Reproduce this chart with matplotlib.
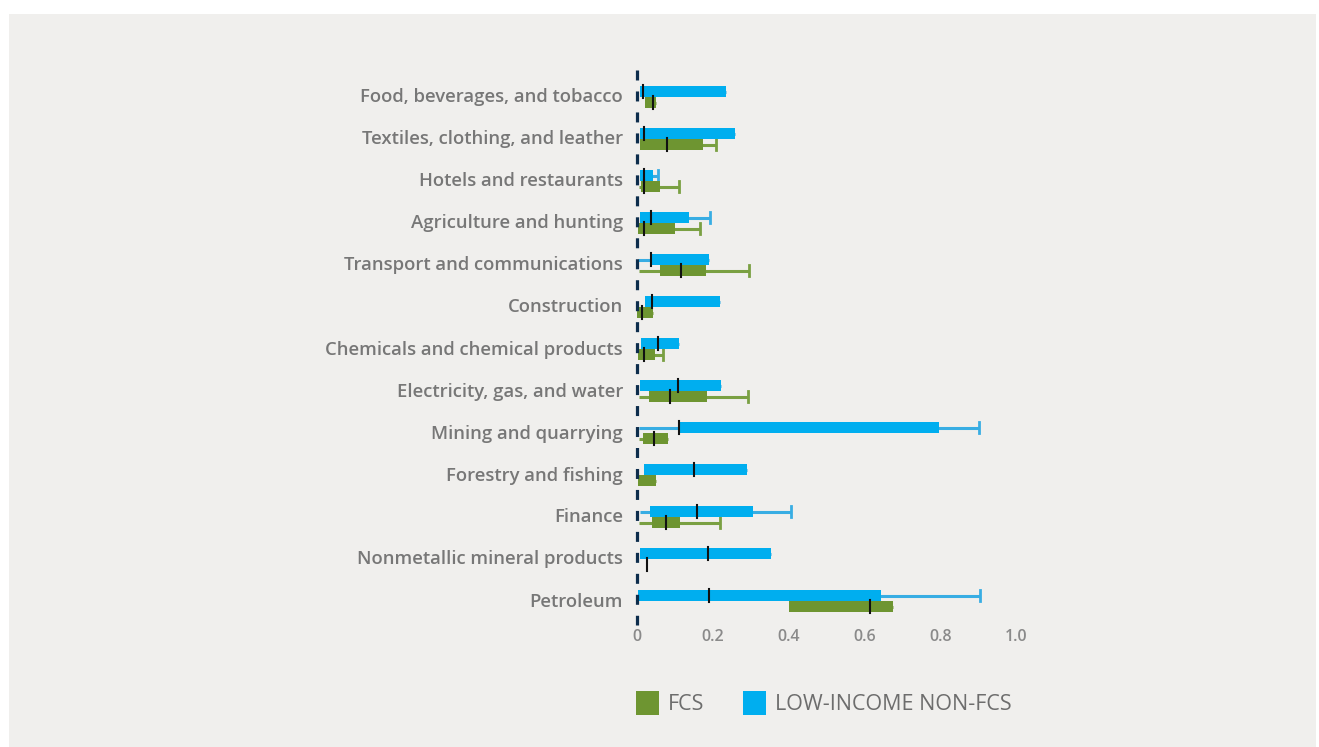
import numpy as np
import matplotlib
matplotlib.use("Agg")
import matplotlib.pyplot as plt
from matplotlib.patches import Rectangle

plt.rcParams['font.family'] = ['Open Sans', 'DejaVu Sans']
plt.rcParams['lines.scale_dashes'] = False

categories = [
    "Food, beverages, and tobacco",
    "Textiles, clothing, and leather",
    "Hotels and restaurants",
    "Agriculture and hunting",
    "Transport and communications",
    "Construction",
    "Chemicals and chemical products",
    "Electricity, gas, and water",
    "Mining and quarrying",
    "Forestry and fishing",
    "Finance",
    "Nonmetallic mineral products",
    "Petroleum",
]
nan = np.nan
# Low-income non-FCS (blue)
lic_q1 = [0.008, 0.008, 0.008, 0.008, 0.037, 0.021, 0.011, 0.008, 0.112, 0.018, 0.034, 0.008, 0.003]
lic_med = [0.017, 0.019, 0.018, 0.036, 0.037, 0.040, 0.056, 0.109, 0.112, 0.150, 0.157, 0.187, 0.189]
lic_q3 = [0.235, 0.259, 0.042, 0.137, 0.190, 0.219, 0.111, 0.222, 0.797, 0.290, 0.306, 0.354, 0.644]
lic_wlo = [nan, nan, nan, nan, 0.002, nan, nan, nan, 0.005, nan, 0.008, nan, nan]
lic_whi = [nan, nan, 0.056, 0.193, nan, nan, nan, nan, 0.903, nan, 0.406, nan, 0.906]
# FCS (green)
fcs_q1 = [0.021, 0.008, 0.011, 0.002, 0.061, 0.000, 0.002, 0.032, 0.016, 0.003, 0.040, 0.026, 0.401]
fcs_med = [0.043, 0.078, 0.018, 0.018, 0.116, 0.012, 0.018, 0.086, 0.045, nan, 0.077, 0.026, 0.614]
fcs_q3 = [0.049, 0.173, 0.062, 0.100, 0.182, 0.042, 0.047, 0.185, 0.082, 0.050, 0.113, 0.026, 0.675]
fcs_wlo = [nan, nan, 0.005, nan, 0.005, nan, nan, 0.005, 0.005, nan, 0.005, nan, nan]
fcs_whi = [nan, 0.208, 0.111, 0.165, 0.296, nan, 0.068, 0.292, nan, nan, 0.220, nan, nan]

xticks = [0, 0.2, 0.4, 0.6, 0.8, 1.0]
xticklabels = ["0", "0.2", "0.4", "0.6", "0.8", "1.0"]

BLUE = "#00aeef"
BLUE_W = "#38ade3"
GREEN = "#6e9531"
GREEN_W = "#7aa042"
TXT = "#777777"

W, H = 1319, 747
fig = plt.figure(figsize=(W / 100, H / 100), dpi=100)
fig.patch.set_facecolor("white")
fig.patches.append(Rectangle((9 / W, 0), 1 - 12 / W, 1 - 14 / H,
                             transform=fig.transFigure, facecolor="#f0efed",
                             edgecolor="none", zorder=-10))

ax_left = 637 / W
ax_w = (1016 - 637) / W
ax_top_px, ax_bot_px = 68.2, 624.7
ax = fig.add_axes([ax_left, 1 - ax_bot_px / H, ax_w, (ax_bot_px - ax_top_px) / H])
ax.set_facecolor("none")
ax.set_zorder(5)
ax.set_xlim(0, 1)
ax.set_ylim(12.6, -0.65)

bh = 0.265
off = 0.04


def draw(q1, med, q3, wlo, whi, y0, col, wcol):
    yc = y0 + bh / 2
    lo = q1 if np.isnan(wlo) else wlo
    hi = q3 if np.isnan(whi) else whi
    if hi > lo:
        ax.plot([lo, hi], [yc, yc], color=wcol, lw=2.2, solid_capstyle="butt", zorder=2)
    if not np.isnan(whi):
        ax.plot([whi, whi], [yc - bh / 2, yc + bh / 2], color=wcol, lw=2.0, zorder=2)
    if q3 > q1:
        ax.add_patch(Rectangle((q1, y0), q3 - q1, bh, facecolor=col, edgecolor="none", zorder=3))
    if not np.isnan(med):
        ax.plot([med, med], [y0 - 0.02, y0 + bh + 0.02], color="#111111", lw=1.5, zorder=5)


for i in range(len(categories)):
    b = i + off
    draw(lic_q1[i], lic_med[i], lic_q3[i], lic_wlo[i], lic_whi[i], b - bh, BLUE, BLUE_W)
    draw(fcs_q1[i], fcs_med[i], fcs_q3[i], fcs_wlo[i], fcs_whi[i], b, GREEN, GREEN_W)

ax.plot([0, 0], [-0.6, 12.6], color="#0d2d4c", lw=2.3, linestyle=(0, (7.2, 7.9)),
        clip_on=False, zorder=6)

ax.set_yticks(range(len(categories)))
ax.set_yticklabels(categories, fontsize=13.3, color=TXT, fontweight="semibold")
ax.set_xticks(xticks)
ax.set_xticklabels(xticklabels, fontsize=11.5, color="#8a8a8a", fontweight="semibold")
ax.tick_params(axis="y", length=0, pad=10)
ax.tick_params(axis="x", length=0, pad=3)
for s in ax.spines.values():
    s.set_visible(False)

# legend
fig.patches.append(Rectangle((636 / W, 1 - 715 / H), 23 / W, 24 / H, transform=fig.transFigure,
                             facecolor=GREEN, edgecolor="none"))
fig.text(668 / W, 1 - 704 / H, "FCS", fontsize=15.5, color="#6d6d6d", va="center", ha="left")
fig.patches.append(Rectangle((743 / W, 1 - 715 / H), 23 / W, 24 / H, transform=fig.transFigure,
                             facecolor=BLUE, edgecolor="none"))
fig.text(775 / W, 1 - 704 / H, "LOW-INCOME NON-FCS", fontsize=15.5, color="#6d6d6d",
         va="center", ha="left")

fig.savefig("out.png", dpi=100)
